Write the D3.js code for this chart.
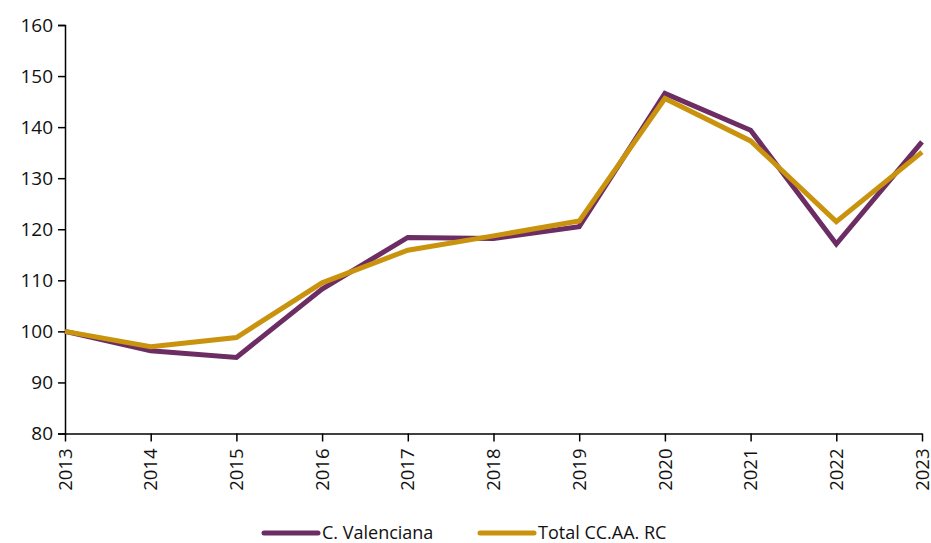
<!DOCTYPE html>
<html>
<head>
<meta charset="utf-8">
<script src="https://cdn.jsdelivr.net/npm/d3@7"></script>
<style>
  body { margin: 0; background: #fff; }
  text { font-family: "Open Sans", sans-serif; fill: #111; }
</style>
</head>
<body>
<script>
// Values
const years = [2013, 2014, 2015, 2016, 2017, 2018, 2019, 2020, 2021, 2022, 2023];
const valenciana = [100, 96.2, 94.9, 108.3, 118.4, 118.2, 120.5, 146.6, 139.4, 117.1, 137.1];
const totalCCAA = [100, 97.0, 98.8, 109.5, 115.9, 118.7, 121.6, 145.6, 137.3, 121.5, 135.1];
const yTicks = [80, 90, 100, 110, 120, 130, 140, 150, 160];

const series = [
  { name: "C. Valenciana", values: valenciana, color: "#6b2d63" },
  { name: "Total CC.AA. RC", values: totalCCAA, color: "#c9930e" }
];

const W = 931, H = 543;
const svg = d3.select("body").append("svg")
    .attr("width", W)
    .attr("height", H);

const x = d3.scalePoint().domain(years).range([65, 922]);
const y = d3.scaleLinear().domain([80, 160]).range([433.5, 25]);

// y axis
svg.append("g")
    .attr("transform", "translate(65,0)")
    .call(d3.axisLeft(y).tickValues(yTicks).tickSize(7).tickPadding(5))
    .call(g => g.selectAll("path, line").attr("stroke", "#000").attr("stroke-width", 1.5))
    .call(g => g.selectAll("text").style("font-size", "19px").attr("fill", "#111"));

// x axis, labels rotated
svg.append("g")
    .attr("transform", "translate(0,433.5)")
    .call(d3.axisBottom(x).tickSize(8).tickSizeOuter(0))
    .call(g => g.selectAll("path, line").attr("stroke", "#000").attr("stroke-width", 1.5))
    .call(g => g.selectAll("text")
        .style("font-size", "18.5px")
        .attr("fill", "#111")
        .attr("transform", "rotate(-90)")
        .attr("text-anchor", "end")
        .attr("x", -15)
        .attr("y", 0)
        .attr("dy", "0.33em"));

// lines
const line = d3.line()
    .x((d, i) => x(years[i]))
    .y(d => y(d));

svg.selectAll("path.series")
  .data(series)
  .enter().append("path")
    .attr("class", "series")
    .attr("fill", "none")
    .attr("stroke", d => d.color)
    .attr("stroke-width", 5)
    .attr("stroke-linejoin", "miter")
    .attr("d", d => line(d.values));

// legend
const legendX = [264, 480];
const legend = svg.selectAll("g.legend")
  .data(series)
  .enter().append("g")
    .attr("class", "legend")
    .attr("transform", (d, i) => `translate(${legendX[i]},533)`);

legend.append("line")
    .attr("x1", 0).attr("x2", 54)
    .attr("stroke", d => d.color)
    .attr("stroke-width", 5)
    .attr("stroke-linecap", "round");

legend.append("text")
    .attr("x", 58)
    .attr("dy", "0.35em")
    .style("font-size", "18px")
    .text(d => d.name);
</script>
</body>
</html>
